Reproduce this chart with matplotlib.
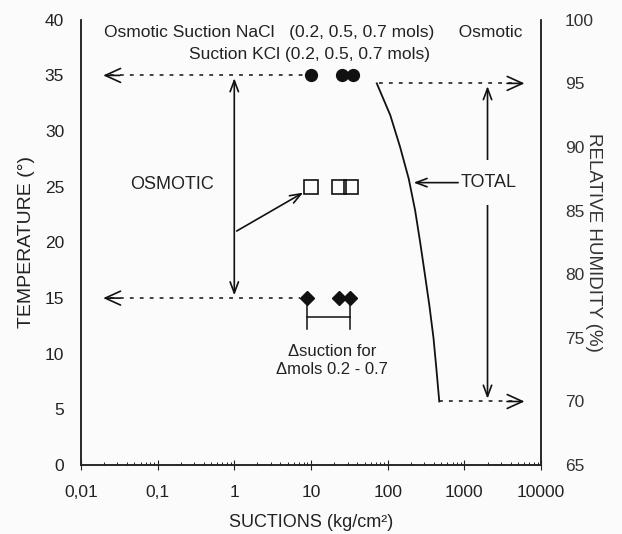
import matplotlib
matplotlib.use('Agg')
import matplotlib.pyplot as plt
from matplotlib.ticker import FixedLocator, NullFormatter, LogLocator
import numpy as np

plt.rcParams['font.family'] = ['Liberation Sans', 'DejaVu Sans']

# salt series (suction kg/cm2) at each temperature
nacl_temp = 35
nacl_suction = [10, 25, 35]
kcl_temp = 25
kcl_suction = [10, 23, 33]
third_temp = 15
third_suction = [9, 23, 32]

# total suction curve: relative humidity (%) vs suction
total_rh = [95, 92.5, 90, 87.5, 85, 82.5, 80, 77.5, 75, 72.5, 70]
total_suction = [72, 108, 145, 188, 228, 265, 305, 350, 395, 432, 470]

x_ticks = [0.01, 0.1, 1, 10, 100, 1000, 10000]
x_labels = ['0,01', '0,1', '1', '10', '100', '1000', '10000']
temp_ticks = [0, 5, 10, 15, 20, 25, 30, 35, 40]
rh_ticks = [65, 70, 75, 80, 85, 90, 95, 100]

bg = '#fbfbfb'
ink = '#111111'
txt = '#222222'

fig = plt.figure(figsize=(6.22, 5.34), dpi=100)
fig.patch.set_facecolor(bg)
ax = fig.add_axes([0.130, 0.129, 0.740, 0.834])
ax.set_facecolor(bg)
ax2 = ax.twinx()

ax.set_xscale('log')
ax.set_xlim(0.01, 10000)
ax.set_ylim(0, 40)
ax2.set_ylim(65, 100)

ax.xaxis.set_major_locator(FixedLocator(x_ticks))
ax.set_xticklabels(x_labels)
ax.xaxis.set_minor_locator(LogLocator(base=10, subs=np.arange(2, 10)))
ax.xaxis.set_minor_formatter(NullFormatter())
ax.tick_params(axis='x', which='major', direction='inout', length=7, width=0.8,
               labelsize=12.5, pad=11, color=txt, labelcolor=txt)
ax.tick_params(axis='x', which='minor', direction='in', length=2.5, width=0.6)
ax.set_yticks(temp_ticks)
ax.tick_params(axis='y', direction='in', length=0, labelsize=12.5, pad=12,
               labelcolor=txt)
ax2.set_yticks(rh_ticks)
ax2.tick_params(axis='y', direction='in', length=0, labelsize=12.5, pad=17,
                labelcolor='#333333')
for a in (ax, ax2):
    for s in a.spines.values():
        s.set_linewidth(1.1)
        s.set_color(txt)
ax.spines['top'].set_visible(False)
ax2.spines['top'].set_visible(False)

ax.set_xlabel('SUCTIONS (kg/cm²)', fontsize=13, labelpad=10, color=txt)
ax.set_ylabel('TEMPERATURE (°)', fontsize=14, labelpad=7, color=txt)
ax2.set_ylabel('RELATIVE HUMIDITY (%)', fontsize=13.5, rotation=-90, labelpad=6,
               color='#333333')

# markers
ax.plot(nacl_suction, [nacl_temp] * 3, 'o', color=ink, markersize=8.5)
ax.plot(kcl_suction, [kcl_temp] * 3, 's', mfc='none', mec=ink, mew=1.2,
        markersize=9.5)
ax.plot(third_suction, [third_temp] * 3, 'D', color=ink, markersize=7.5)

dot = (0, (2.5, 4))
chev = dict(arrowstyle='->,head_length=1.1,head_width=0.5', lw=1.2, color=ink)
dbl = dict(arrowstyle='<->,head_length=0.8,head_width=0.3', lw=1.2, color=ink)
single = dict(arrowstyle='->,head_length=0.8,head_width=0.3', lw=1.2, color=ink)

# osmotic dotted lines to the left
for t, s0 in [(nacl_temp, nacl_suction[0]), (third_temp, third_suction[0])]:
    ax.plot([0.024, s0 * 0.8], [t, t], color=ink, lw=1.1, ls=dot)
    ax.annotate('', xy=(0.018, t), xytext=(0.035, t), arrowprops=chev)

# osmotic vertical double arrow at 1 kg/cm2
ax.annotate('', xy=(1, nacl_temp), xytext=(1, third_temp), arrowprops=dbl)
ax.annotate('', xy=(kcl_suction[0] * 0.85, kcl_temp - 0.4), xytext=(1, 20.9),
            arrowprops=single)
ax.text(0.155, 25.2, 'OSMOTIC', fontsize=13, ha='center', va='center', color=txt)

# bracket under third series
lo, hi = third_suction[0], third_suction[-1]
ax.plot([lo, lo], [third_temp, 12.2], color=ink, lw=1.1)
ax.plot([hi, hi], [third_temp, 12.2], color=ink, lw=1.1)
ax.plot([lo, hi], [13.3, 13.3], color=ink, lw=1.1)
ax.text(np.sqrt(lo * hi) * 1.1, 9.4, 'Δsuction for\nΔmols 0.2 - 0.7', fontsize=12,
        ha='center', va='center', linespacing=1.3, color=txt)

# total suction curve (right axis)
ax2.plot(total_suction, total_rh, color=ink, lw=1.3)
for rh, s0 in [(total_rh[0], total_suction[0] * 1.06), (total_rh[-1], total_suction[-1])]:
    ax2.plot([s0, 5000], [rh, rh], color=ink, lw=1.1, ls=dot)
    ax2.annotate('', xy=(6600, rh), xytext=(3300, rh), arrowprops=chev)
ax2.annotate('', xy=(2000, 95), xytext=(2000, 70), arrowprops=dbl)
ax2.text(2050, 87.2, 'TOTAL', fontsize=13, ha='center', va='center', color=txt,
         bbox=dict(facecolor=bg, edgecolor='none', pad=10))
ax2.annotate('', xy=(200, 87.2), xytext=(900, 87.2), arrowprops=single)

# header texts
ax.text(0.504, 0.971, 'Osmotic Suction NaCl   (0.2, 0.5, 0.7 mols)     Osmotic',
        transform=ax.transAxes, fontsize=12.5, ha='center', va='center', color=txt)
ax.text(0.497, 0.921, 'Suction KCl (0.2, 0.5, 0.7 mols)',
        transform=ax.transAxes, fontsize=12.5, ha='center', va='center', color=txt)

fig.savefig('out.png', dpi=100, facecolor=fig.get_facecolor())
